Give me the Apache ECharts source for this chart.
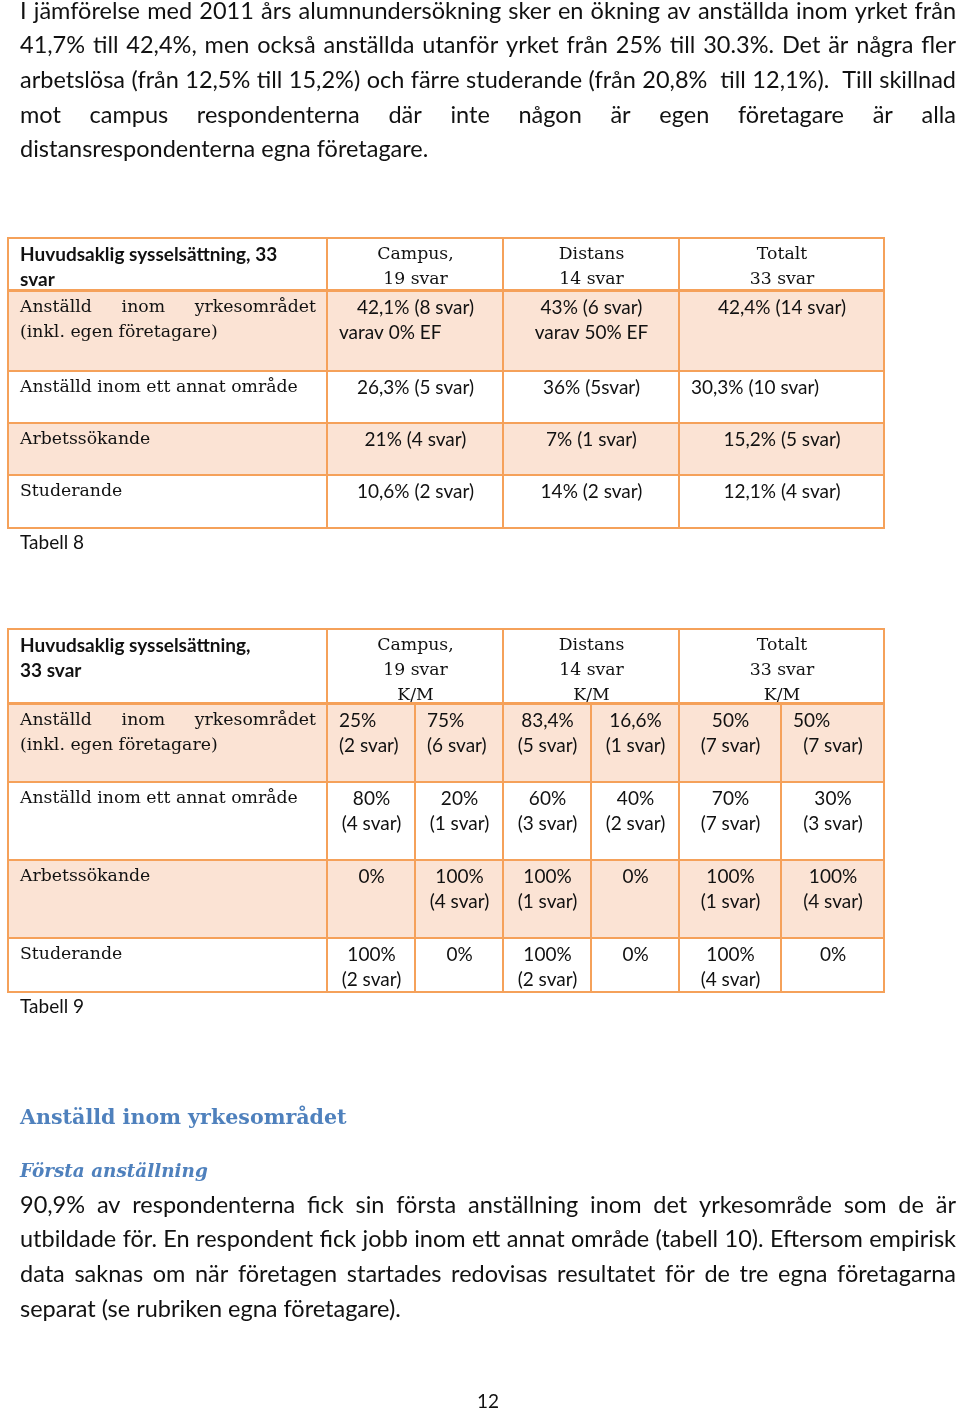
<!DOCTYPE html>
<html>
<head>
<meta charset="utf-8">
<script src="https://cdn.jsdelivr.net/npm/echarts@6/dist/echarts.min.js"></script>
<style>
html, body { margin: 0; padding: 0; background: #fff; }
#chart { width: 960px; height: 1412px; }
</style>
</head>
<body>
<div id="chart"></div>
<script>
// texter
var introLines = [
    'I jämförelse med 2011 års alumnundersökning sker en ökning av anställda inom yrket från',
    '41,7% till 42,4%, men också anställda utanför yrket från 25% till 30.3%. Det är några fler',
    'arbetslösa (från 12,5% till 15,2%) och färre studerande (från 20,8%  till 12,1%).  Till skillnad',
    'mot campus respondenterna där inte någon är egen företagare är alla',
    'distansrespondenterna egna företagare.'
];
var outroLines = [
    '90,9% av respondenterna fick sin första anställning inom det yrkesområde som de är',
    'utbildade för. En respondent fick jobb inom ett annat område (tabell 10). Eftersom empirisk',
    'data saknas om när företagen startades redovisas resultatet för de tre egna företagarna',
    'separat (se rubriken egna företagare).'
];
var heading = 'Anställd inom yrkesområdet';
var subHeading = 'Första anställning';
var caption1 = 'Tabell 8';
var caption2 = 'Tabell 9';
var pageNo = '12';

// tabell 8
var head1 = ['Huvudsaklig sysselsättning, 33', 'svar'];
var groups1 = [['Campus,', '19 svar'], ['Distans', '14 svar'], ['Totalt', '33 svar']];
var rows = [
    ['Anställd inom yrkesområdet', '(inkl. egen företagare)'],
    ['Anställd inom ett annat område'],
    ['Arbetssökande'],
    ['Studerande']
];
var campus1 = [['42,1% (8 svar)', 'varav 0% EF'], ['26,3% (5 svar)'], ['21% (4 svar)'], ['10,6% (2 svar)']];
var distans1 = [['43% (6 svar)', 'varav 50% EF'], ['36% (5svar)'], ['7% (1 svar)'], ['14% (2 svar)']];
var totalt1 = [['42,4% (14 svar)'], ['30,3% (10 svar)'], ['15,2% (5 svar)'], ['12,1% (4 svar)']];

// tabell 9
var head2 = ['Huvudsaklig sysselsättning,', '33 svar'];
var groups2 = [['Campus,', '19 svar', 'K/M'], ['Distans', '14 svar', 'K/M'], ['Totalt', '33 svar', 'K/M']];
var campusK = [['25%', '(2 svar)'], ['80%', '(4 svar)'], ['0%'], ['100%', '(2 svar)']];
var campusM = [['75%', '(6 svar)'], ['20%', '(1 svar)'], ['100%', '(4 svar)'], ['0%']];
var distansK = [['83,4%', '(5 svar)'], ['60%', '(3 svar)'], ['100%', '(1 svar)'], ['100%', '(2 svar)']];
var distansM = [['16,6%', '(1 svar)'], ['40%', '(2 svar)'], ['0%'], ['0%']];
var totaltK = [['50%', '(7 svar)'], ['70%', '(7 svar)'], ['100%', '(1 svar)'], ['100%', '(4 svar)']];
var totaltM = [['50%', '(7 svar)'], ['30%', '(3 svar)'], ['100%', '(4 svar)'], ['0%']];

// layout
var sansFont = '23.5px Lato';
var cellSans = '19px Lato';
var cellBold = 'bold 19px Lato';
var cellSerif = '17.3px "DejaVu Serif"';
var ink = '#111';
var blue = '#4F81BD';
var border = '#F5A15A';
var shade = '#FBE3D4';

var measureCtx = document.createElement('canvas').getContext('2d');
function textWidth(t, font) {
    measureCtx.font = font;
    return measureCtx.measureText(t).width;
}

// one line of text; justified lines get their words spread out between x0 and x1
function lineElements(text, x0, x1, y, font, align, justify, color) {
    var base = { font: font, fill: color || ink, verticalAlign: 'middle', textVerticalAlign: 'middle' };
    if (justify) {
        var words = text.split(' ');
        var total = 0;
        words.forEach(w => total += textWidth(w, font));
        var gap = (x1 - x0 - total) / (words.length - 1);
        var x = x0, out = [];
        words.forEach(w => {
            if (w) out.push({ type: 'text', silent: true, style: Object.assign({ text: w, x: x, y: y, align: 'left', textAlign: 'left' }, base) });
            x += textWidth(w, font) + gap;
        });
        return out;
    }
    var ax = align == 'center' ? (x0 + x1) / 2 : x0;
    return [{ type: 'text', silent: true, style: Object.assign({ text: text, x: ax, y: y, align: align, textAlign: align }, base) }];
}

function paragraph(lines, top, step) {
    var els = [];
    lines.forEach((l, i) => {
        els = els.concat(lineElements(l, 20, 956, top + i * step, sansFont, 'left', i < lines.length - 1));
    });
    return els;
}

// cells: value = [first column edge, last column edge, row]
function cell(c0, c1, r, lines, font, align, justify) {
    return { value: [c0, c1, r], lines: lines, font: font, align: align || 'center', justify: justify };
}

var cells1 = [cell(0, 1, 0, head1, cellBold, 'left')];
groups1.forEach((g, i) => cells1.push(cell(i + 1, i + 2, 0, g, cellSerif)));
rows.forEach((r, i) => {
    cells1.push(cell(0, 1, i + 1, r, cellSerif, 'left', true));
    cells1.push(cell(1, 2, i + 1, campus1[i], cellSans, i == 0 ? ['center', 'left'] : 'center'));
    cells1.push(cell(2, 3, i + 1, distans1[i], cellSans));
    cells1.push(cell(3, 4, i + 1, totalt1[i], cellSans, i == 1 ? 'left' : 'center'));
});

var cells2 = [cell(0, 1, 0, head2, cellBold, 'left')];
groups2.forEach((g, i) => cells2.push(cell(2 * i + 1, 2 * i + 3, 0, g, cellSerif)));
rows.forEach((r, i) => {
    cells2.push(cell(0, 1, i + 1, r, cellSerif, 'left', true));
    [campusK, campusM, distansK, distansM, totaltK, totaltM].forEach((col, j) => {
        var al = 'center';
        if (i == 0 && j < 2) al = 'left';
        if (i == 0 && j == 5) al = ['left', 'center'];
        cells2.push(cell(j + 1, j + 2, i + 1, col[i], cellSans, al));
    });
});

var colEdges1 = [0, 319, 495, 671, 876];
var rowEdges1 = [0, 53, 133, 185, 237, 290];
var colEdges2 = [0, 319, 407, 495, 583, 671, 773, 876];
var rowEdges2 = [0, 75, 153, 231, 309, 363];

function tableRenderer(cells, colEdges, rowEdges) {
    return function (params, api) {
        var c = cells[params.dataIndex];
        var r = api.value(2);
        var p0 = api.coord([colEdges[api.value(0)], rowEdges[r]]);
        var p1 = api.coord([colEdges[api.value(1)], rowEdges[r + 1]]);
        var children = [{
            type: 'rect',
            shape: { x: p0[0], y: p0[1], width: p1[0] - p0[0], height: p1[1] - p0[1] },
            style: { fill: r % 2 == 1 ? shade : '#fff', stroke: border, lineWidth: 2 }
        }];
        if (r == 0) {
            children.push({
                type: 'line',
                shape: { x1: p0[0], y1: p1[1], x2: p1[0], y2: p1[1] },
                style: { stroke: border, lineWidth: 4 }
            });
        }
        c.lines.forEach((l, k) => {
            var al = Array.isArray(c.align) ? c.align[k] : c.align;
            var last = k == c.lines.length - 1;
            children = children.concat(lineElements(l, p0[0] + 12, p1[0] - 11, p0[1] + 16.5 + k * 25,
                c.font, al, c.justify && !last));
        });
        return { type: 'group', children: children };
    };
}

var chart = echarts.init(document.getElementById('chart'));
chart.setOption({
    animation: false,
    grid: [
        { left: 8, top: 238, width: 876, height: 290 },
        { left: 8, top: 629, width: 876, height: 363 }
    ],
    xAxis: [
        { type: 'value', gridIndex: 0, min: 0, max: 876, show: false },
        { type: 'value', gridIndex: 1, min: 0, max: 876, show: false }
    ],
    yAxis: [
        { type: 'value', gridIndex: 0, min: 0, max: 290, inverse: true, show: false },
        { type: 'value', gridIndex: 1, min: 0, max: 363, inverse: true, show: false }
    ],
    series: [
        { type: 'custom', xAxisIndex: 0, yAxisIndex: 0, clip: false, silent: true,
          data: cells1, renderItem: tableRenderer(cells1, colEdges1, rowEdges1) },
        { type: 'custom', xAxisIndex: 1, yAxisIndex: 1, clip: false, silent: true,
          data: cells2, renderItem: tableRenderer(cells2, colEdges2, rowEdges2) }
    ],
    graphic: {
        elements: paragraph(introLines, 11, 34.7)
            .concat(lineElements(caption1, 20, 200, 543, '19px Lato', 'left'))
            .concat(lineElements(caption2, 20, 200, 1007, '19px Lato', 'left'))
            .concat(lineElements(heading, 20, 600, 1119, 'bold 20.6px "DejaVu Serif"', 'left', false, blue))
            .concat(lineElements(subHeading, 20, 600, 1172, 'italic bold 18.4px "DejaVu Serif"', 'left', false, blue))
            .concat(paragraph(outroLines, 1205, 34.7))
            .concat(lineElements(pageNo, 438, 538, 1402, '19px Lato', 'center'))
    }
});
</script>
</body>
</html>
